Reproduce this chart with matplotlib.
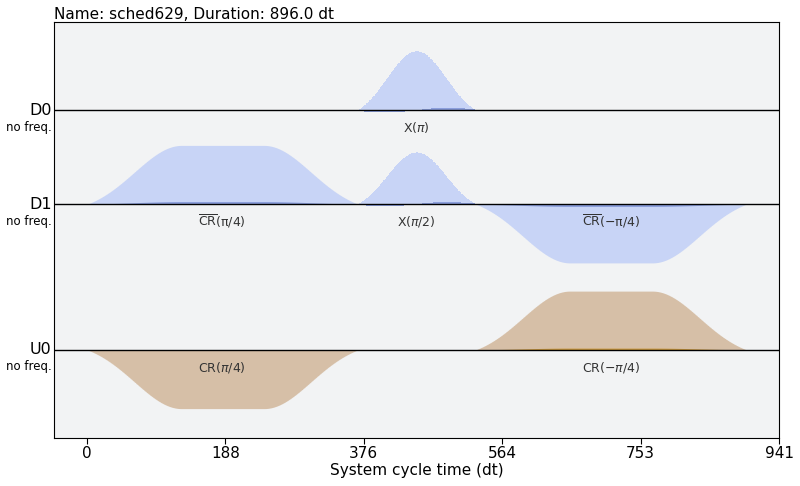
import numpy as np
import matplotlib.pyplot as plt

# ------------------------------------------------------------
# data: pulse schedule (sched629, 896 dt)
# ------------------------------------------------------------
channels = ["D0", "D1", "U0"]
channel_freqs = ["no freq.", "no freq.", "no freq."]

pulse_channel = ["D0", "D1", "D1", "D1", "U0", "U0"]
pulse_start = [368, 0, 368, 528, 0, 528]
pulse_duration = [160, 368, 160, 368, 368, 368]
pulse_sigma = [40, 64, 40, 64, 64, 64]
pulse_width = [0, 112, 0, 112, 112, 112]
pulse_amp = [1.0, 1.0, 0.88, -1.0, -1.0, 1.0]
pulse_imag = [0.04, 0.045, 0.035, -0.04, 0.0, 0.03]
pulse_label = [
    r"X($\pi$)",
    r"$\overline{\mathrm{CR}}$(π/4)",
    r"X($\pi$/2)",
    r"$\overline{\mathrm{CR}}$(−π/4)",
    r"CR($\pi$/4)",
    r"CR($-\pi$/4)",
]

tick_pos = [0, 188.16, 376.32, 564.48, 752.64, 940.8]
tick_labels = ["0", "188", "376", "564", "753", "941"]

# ------------------------------------------------------------
# layout / style
# ------------------------------------------------------------
BASELINE = {"D0": -1.5, "D1": -3.1, "U0": -5.58}
Y_BOTTOM = -7.08
REAL_COLOR = {"D": "#c8d4f6", "U": "#d6bfa7"}
IMAG_COLOR = {"D": "#8c9fdc", "U": "#c8963c"}
BG = "#f2f3f4"


def lifted_gauss(t, center, sigma, half_len):
    g = np.exp(-(t - center) ** 2 / (2 * sigma ** 2))
    g0 = np.exp(-half_len ** 2 / (2 * sigma ** 2))
    return (g - g0) / (1 - g0)


def envelope(duration, sigma, width):
    t = np.arange(duration + 1, dtype=float)
    if width == 0:
        # gaussian + DRAG-like imaginary part
        c = duration / 2
        env = lifted_gauss(t, c, sigma, c)
        deriv = (t - c) / sigma ** 2 * np.exp(-(t - c) ** 2 / (2 * sigma ** 2))
        deriv = deriv / np.abs(deriv).max()
        return t, env, deriv
    # gaussian square
    rf = (duration - width) / 2
    env = np.ones_like(t)
    left = t < rf
    right = t > rf + width
    env[left] = lifted_gauss(t[left], rf, sigma, rf)
    env[right] = lifted_gauss(t[right], rf + width, sigma, rf)
    return t, env, env


fig = plt.figure(figsize=(8, 4.86), dpi=100)
ax = fig.add_axes([0.0675, 0.0988, 0.90625, 0.8559])
ax.set_facecolor(BG)

for ch, st, dur, sg, wd, amp, im, lab in zip(pulse_channel, pulse_start, pulse_duration,
                                              pulse_sigma, pulse_width, pulse_amp,
                                              pulse_imag, pulse_label):
    base = BASELINE[ch]
    t, env, imag_shape = envelope(dur, sg, wd)
    t = t + st
    ax.fill_between(t, base, base + amp * env, step="post",
                    color=REAL_COLOR[ch[0]], lw=0, zorder=2)
    if im != 0:
        ax.fill_between(t, base, base + im * imag_shape, step="post",
                        color=IMAG_COLOR[ch[0]], lw=0, zorder=3)
    ax.text(st + dur / 2, base - 0.3, lab, ha="center", va="center",
            fontsize=9, color="#333333", zorder=5)

for ch, fq in zip(channels, channel_freqs):
    base = BASELINE[ch]
    ax.axhline(base, color="black", lw=1, zorder=4)
    ax.text(-0.003, base, ch, transform=ax.get_yaxis_transform(),
            ha="right", va="center", fontsize=11.5)
    ax.text(-0.003, base - 0.29, fq, transform=ax.get_yaxis_transform(),
            ha="right", va="center", fontsize=8.5)

ax.set_xlim(-44.8, 940.8)
ax.set_ylim(Y_BOTTOM, 0)
ax.set_yticks([])
ax.set_xticks(tick_pos)
ax.set_xticklabels(tick_labels, fontsize=11)
ax.tick_params(axis="x", length=4, pad=2, direction="out")
ax.set_xlabel("System cycle time (dt)", fontsize=11, labelpad=1)
ax.set_title("Name: sched629, Duration: 896.0 dt", loc="left", fontsize=11, pad=2)

fig.savefig("out.png", dpi=100)
